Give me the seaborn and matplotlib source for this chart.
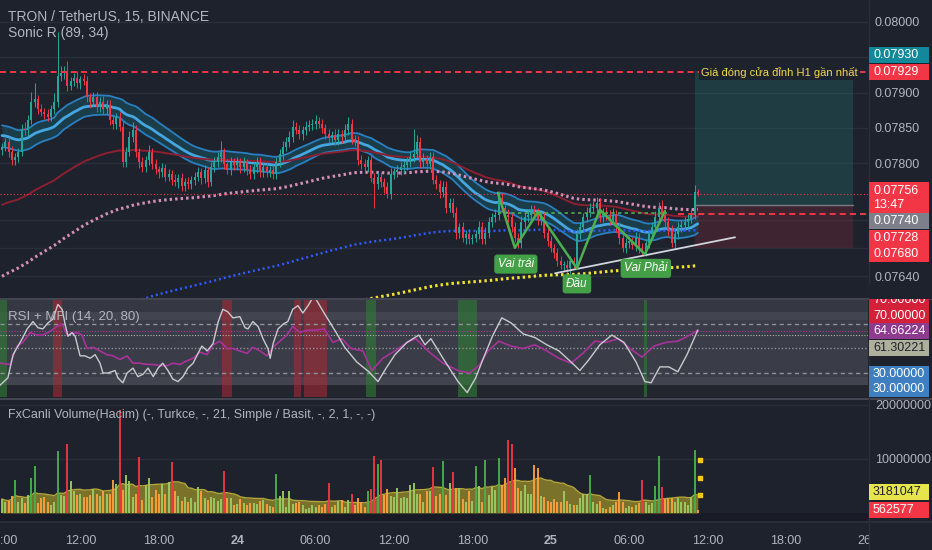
import numpy as np
import pandas as pd
import matplotlib
matplotlib.use("Agg")
import matplotlib.pyplot as plt
from matplotlib.patches import Rectangle
from matplotlib.lines import Line2D
import seaborn as sns

sns.set_style("dark")
plt.rcParams['font.family'] = ['Liberation Sans', 'DejaVu Sans']

# ---------------- data (prices in 1e-5 USDT, volume in millions) ----------------
title_main = "TRON / TetherUS, 15, BINANCE"
title_sonic = "Sonic R (89, 34)"
title_rsi = "RSI + MFI (14, 20, 80)"
title_vol = "FxCanli Volume(Hacim) (-, Turkce, -, 21, Simple / Basit, -, 2, 1, -, -)"

open_first = 7818
closes = [
    7823, 7830, 7816, 7804, 7809, 7816, 7849, 7847, 7861, 7887,
    7891, 7876, 7873, 7870, 7866, 7876, 7887, 7923, 7927, 7930,
    7909, 7916, 7921, 7913, 7919, 7916, 7894, 7887, 7894, 7880,
    7887, 7876, 7883, 7861, 7856, 7866, 7851, 7801, 7816, 7837,
    7847, 7816, 7801, 7794, 7804, 7816, 7799, 7791, 7787, 7793,
    7781, 7784, 7776, 7773, 7779, 7767, 7773, 7770, 7776, 7780,
    7787, 7779, 7790, 7773, 7794, 7801, 7809, 7816, 7799, 7790,
    7801, 7797, 7801, 7794, 7801, 7790, 7784, 7794, 7801, 7787,
    7794, 7787, 7790, 7784, 7801, 7813, 7823, 7830, 7837, 7851,
    7847, 7841, 7847, 7851, 7854, 7856, 7859, 7856, 7850, 7841,
    7836, 7840, 7833, 7841, 7837, 7847, 7856, 7834, 7830, 7804,
    7799, 7794, 7804, 7779, 7770, 7780, 7773, 7766, 7756, 7784,
    7787, 7790, 7794, 7797, 7801, 7809, 7813, 7830, 7801, 7806,
    7799, 7809, 7776, 7770, 7759, 7766, 7737, 7744, 7730, 7701,
    7709, 7694, 7699, 7693, 7694, 7699, 7709, 7693, 7701, 7716,
    7723, 7727, 7751, 7737, 7727, 7723, 7709, 7694, 7687, 7716,
    7723, 7727, 7733, 7730, 7719, 7723, 7701, 7690, 7680, 7673,
    7661, 7656, 7656, 7651, 7661, 7656, 7699, 7709, 7723, 7730,
    7737, 7737, 7744, 7723, 7730, 7727, 7719, 7727, 7709, 7694,
    7680, 7687, 7690, 7684, 7694, 7680, 7676, 7687, 7699, 7709,
    7723, 7737, 7727, 7716, 7704, 7687, 7699, 7709, 7713, 7716,
    7721, 7726, 7759, 7756]
up_wick = [
    6, 5, 7, 8, 6, 5, 7, 9, 7, 14,
    22, 6, 8, 5, 7, 6, 12, 62, 10, 8,
    14, 6, 7, 9, 5, 7, 8, 6, 7, 7,
    6, 8, 7, 6, 9, 5, 7, 8, 7, 9,
    11, 7, 6, 7, 6, 9, 6, 7, 5, 7,
    6, 7, 6, 8, 5, 7, 6, 7, 6, 7,
    8, 6, 7, 5, 7, 8, 7, 16, 6, 7,
    7, 6, 8, 6, 7, 5, 7, 6, 8, 7,
    6, 7, 6, 7, 8, 7, 9, 7, 8, 10,
    7, 7, 6, 8, 7, 7, 9, 6, 7, 6,
    7, 6, 8, 7, 6, 8, 9, 7, 6, 8,
    7, 7, 6, 9, 7, 7, 8, 6, 7, 9,
    6, 7, 7, 6, 7, 8, 36, 10, 7, 8,
    6, 7, 7, 7, 6, 8, 9, 7, 7, 8,
    6, 7, 7, 8, 6, 7, 9, 7, 8, 7,
    7, 8, 9, 7, 7, 8, 6, 7, 7, 9,
    6, 7, 8, 7, 7, 6, 8, 7, 7, 6,
    7, 7, 6, 7, 7, 6, 8, 7, 7, 8,
    7, 9, 8, 7, 7, 8, 7, 9, 7, 7,
    8, 7, 7, 6, 8, 7, 7, 6, 7, 8,
    9, 8, 11, 7, 7, 8, 7, 7, 6, 7,
    7, 7, 10, 4]
dn_wick = [
    7, 6, 8, 7, 6, 7, 6, 7, 8, 6,
    7, 7, 6, 8, 7, 7, 6, 7, 7, 8,
    7, 6, 7, 7, 8, 6, 7, 7, 6, 7,
    8, 7, 6, 7, 7, 8, 6, 7, 7, 6,
    7, 7, 8, 7, 6, 7, 7, 6, 8, 7,
    6, 7, 7, 6, 8, 7, 7, 6, 7, 7,
    6, 8, 7, 7, 6, 7, 7, 8, 7, 6,
    7, 7, 6, 8, 7, 7, 6, 7, 8, 7,
    6, 7, 7, 6, 7, 7, 8, 6, 7, 7,
    6, 7, 8, 7, 6, 7, 7, 6, 8, 7,
    7, 6, 7, 7, 8, 6, 7, 7, 6, 7,
    8, 7, 7, 6, 34, 7, 7, 8, 6, 7,
    7, 6, 7, 8, 7, 6, 7, 7, 8, 6,
    7, 7, 6, 7, 8, 7, 7, 6, 7, 8,
    7, 6, 8, 7, 7, 6, 7, 7, 8, 7,
    6, 7, 7, 6, 7, 8, 7, 6, 7, 7,
    8, 6, 7, 7, 6, 7, 7, 8, 6, 7,
    7, 6, 7, 7, 8, 4, 6, 7, 7, 6,
    7, 7, 8, 6, 7, 7, 6, 7, 7, 8,
    6, 7, 7, 6, 8, 7, 6, 7, 7, 6,
    7, 7, 6, 7, 7, 6, 7, 7, 6, 7,
    7, 6, 5, 3]
volume_m = [
    2.6, 2.1, 2.2, 3.2, 6.1, 2.1, 2.8, 1.9, 3.3, 6.4,
    8.7, 1.8, 2.8, 3.0, 2.0, 1.5, 2.0, 11.5, 3.3, 3.2,
    12.8, 5.9, 4.0, 3.3, 3.5, 3.0, 3.0, 3.3, 4.4, 3.5,
    3.2, 4.0, 3.5, 3.5, 6.1, 5.3, 19.0, 4.3, 7.0, 5.9,
    3.0, 3.6, 10.3, 2.4, 5.2, 6.4, 3.0, 4.3, 3.6, 5.3,
    3.6, 5.7, 9.5, 4.1, 3.2, 2.2, 3.0, 2.0, 2.8, 2.0,
    4.9, 4.0, 2.7, 2.4, 3.0, 2.7, 2.2, 2.6, 7.8, 2.8,
    2.7,
    1.5, 1.6, 2.6, 1.8, 1.4, 1.8, 1.8, 1.6, 2.2, 2.4,
    1.6, 1.3, 1.2, 7.2, 3.2, 4.0, 1.2, 4.0, 1.6, 1.8,
    2.1, 1.4, 0.7, 1.0, 1.4, 1.2, 1.5, 1.2, 1.6, 5.6,
    1.2, 1.5, 2.2, 2.4, 1.2, 2.4, 3.5, 1.5, 2.8, 2.0,
    1.2, 4.1, 4.4, 10.6, 9.0, 9.8, 3.3, 4.4, 3.2, 3.0,
    4.6, 2.8, 3.0, 2.7, 5.1, 5.5, 3.6, 3.6, 2.0, 4.0,
    4.1, 8.6, 3.2, 3.6, 9.7, 3.3, 5.5, 7.5, 4.6, 4.6,
    2.6, 2.1,
    4.0, 2.2, 8.7, 5.0, 2.1, 9.8, 3.3, 4.9, 4.2, 10.1,
    5.1, 6.4, 13.5, 12.7, 8.3, 4.6, 4.1, 5.2, 3.6, 3.6,
    8.9, 8.4, 3.1, 3.0, 2.2, 2.0, 2.6, 2.0, 2.1, 4.0,
    2.2, 1.6, 1.4, 1.4, 2.8, 3.5, 3.6, 7.0, 2.1, 1.6,
    2.2, 0.9, 0.7, 1.2, 1.5, 2.1, 3.8, 2.0, 0.9, 1.3,
    1.2, 1.4, 1.8, 6.1, 2.1, 1.5, 1.8, 5.0, 10.6, 4.9,
    2.6, 2.8, 2.7, 2.1, 2.8, 2.1, 2.0, 1.5, 3.0, 11.6,
    0.562577]

rsi_pos = [
    -0.6, 1.8, 3.4, 4.9, 6.2, 7.7, 9.5, 11.0, 12.5, 14.1,
    15.6, 17.1, 18.4, 19.3, 20.2, 21.4, 22.4, 23.9, 25.4, 27.0,
    28.5, 30.0, 30.9, 32.4, 34.6, 35.5, 37.0, 38.3, 40.1, 41.6,
    43.2, 44.7, 46.3, 47.8, 49.2, 50.8, 52.3, 53.9, 55.4, 56.9,
    58.5, 60.0, 61.2, 62.8, 64.6, 66.2, 67.6, 69.1, 70.7, 72.8,
    74.4, 75.3, 76.8, 78.4, 79.9, 81.4, 82.1, 83.0, 84.5, 86.1,
    87.5, 89.0, 90.6, 92.1, 93.7, 95.5, 98.6, 102.3, 104.9, 108.6,
    112.3, 115.1, 117.6, 120.3, 124.0, 127.6, 129.5, 131.3, 135.0, 139.6,
    142.4, 145.0, 147.8, 150.3, 153.0, 155.8, 159.5, 163.1, 166.8, 170.5,
    174.2, 176.9, 179.7, 183.0, 186.7, 190.4, 194.1, 196.8, 198.7, 201.4,
    204.1, 206.9, 209.7, 213.0]
rsi_val = [
    20, 26, 45, 52, 58, 66, 72, 67, 66, 71,
    74, 86, 82, 70, 60, 63, 60, 44, 44, 42,
    45, 38, 30, 30, 32, 26, 22, 30, 34, 27,
    29, 34, 27, 34, 38, 32, 25, 23, 27, 34,
    38, 46, 52, 48, 54, 72, 82, 80, 75, 76,
    67, 66, 72, 68, 58, 50, 42, 54, 66, 70,
    72, 82, 85, 79, 85, 93, 79, 63, 51, 39,
    31, 23, 34, 45, 55, 61, 53, 58, 42, 23,
    14, 26, 45, 61, 75, 71, 62, 59, 53, 48,
    39, 32, 41, 53, 61, 55, 39, 23, 22, 35,
    35, 31, 45, 65]
mfi_pos = [
    -0.6, 2.5, 4.6, 6.4, 8.6, 10.7, 12.5, 14.7, 16.8, 18.4,
    19.9, 21.4, 23.0, 24.5, 26.0, 27.9, 30.0, 32.1, 34.0, 36.1,
    38.3, 40.1, 42.2, 44.4, 46.3, 48.4, 50.5, 52.3, 54.5, 56.6,
    58.5, 60.6, 62.8, 64.6, 66.7, 68.9, 70.7, 72.8, 75.0, 76.8,
    79.0, 81.1, 83.0, 85.1, 87.2, 89.0, 91.2, 93.3, 95.8, 98.6,
    101.3, 104.1, 106.8, 110.5, 113.2, 116.6, 120.3, 124.0, 126.7, 130.4,
    135.0, 139.6, 143.2, 146.0, 148.8, 152.1, 155.8, 159.5, 163.1, 166.8,
    170.5, 174.2, 177.8, 181.5, 184.9, 188.6, 192.2, 195.9, 199.6, 203.2,
    206.9, 210.6, 213.0]
mfi_val = [
    38, 37, 52, 55, 63, 61, 61, 64, 68, 70,
    61, 62, 63, 61, 50, 51, 48, 45, 44, 41,
    44, 38, 38, 37, 37, 36, 36, 38, 37, 40,
    42, 47, 45, 53, 56, 50, 50, 48, 46, 51,
    48, 44, 51, 56, 61, 68, 63, 65, 65, 66,
    55, 58, 50, 48, 32, 42, 48, 55, 58, 48,
    38, 32, 30, 36, 48, 56, 52, 50, 53, 48,
    42, 38, 46, 56, 55, 58, 50, 43, 52, 55,
    56, 61, 65]

# indicator seeds (value of each average at the left edge)
sonic_period = 34
sonic_seed_hi, sonic_seed_c, sonic_seed_lo = 7855, 7840, 7823
ema89_seed = 7739
pink_period, pink_seed = 141, 7637
blue_period, blue_seed = 275, 7510
yellow_period, yellow_seed = 380, 7428
vol_ma_len = 21

# RSI over/under zones (candle index ranges)
red_zones = [(16, 18), (68, 70), (90, 91), (93, 99)]
green_zones = [(-1, 1), (112, 114), (140, 145), (197, 197)]

# time axis (candle index of each label)
time_ticks = [0, 24, 48, 72, 96, 120, 144, 168, 192, 216, 240, 264]
time_labels = ["06:00", "12:00", "18:00", "24", "06:00", "12:00", "18:00", "25",
               "06:00", "12:00", "18:00", "26"]

# drawings: head & shoulders, trend line, long position
hs_x = [151.8, 157.0, 164.1, 176.0, 183.0, 196.8, 202.9]
hs_y = [7758, 7680, 7731, 7651, 7734, 7671, 7732]
hs_labels = ["Vai trái", "Đầu", "Vai Phải"]
hs_label_x = [157.3, 176.0, 197.1]
hs_label_y = [7657, 7629, 7651]
neck_x = [151.8, 203.5]
neck_y = 7729
trend_x = [169.3, 224.4]
trend_y = [7644, 7695]
h1_close = 7929
h1_text = "Giá đóng cửa đỉnh H1 gần nhất"
lp_start, lp_end = 212.1, 260.5
lp_entry, lp_target, lp_stop = 7740, 7930, 7680
last_price = 7756
level_stop = 7728
vol_marks = [9.8, 6.5, 3.3]

# ---------------- calculations ----------------
S = 1e-5
c = np.array(closes, float)
o = np.r_[open_first, c[:-1]]
h = np.maximum(o, c) + np.array(up_wick)
l = np.minimum(o, c) - np.array(dn_wick)
vol = np.array(volume_m) * 1e6
idx = np.arange(len(c))


def ema(vals, period, seed):
    a = 2.0 / (period + 1)
    e = seed
    out = []
    for v in vals:
        e = e + a * (v - e)
        out.append(e)
    return np.array(out)


sonic_hi = ema(h, sonic_period, sonic_seed_hi)
sonic_lo = ema(l, sonic_period, sonic_seed_lo)
sonic_c = ema(c, sonic_period, sonic_seed_c)
ema89 = ema(c, 89, ema89_seed)
ema_pink = ema(c, pink_period, pink_seed)
ema_blue = ema(c, blue_period, blue_seed)
ema_yellow = ema(c, yellow_period, yellow_seed)
vol_ma = pd.Series(vol).rolling(vol_ma_len, min_periods=1).mean().values

# ---------------- figure ----------------
W, H = 932, 550
BG = '#1e222d'
TXT = '#b2b5be'
XMIN, XMAX = -0.61, 265.1
fig = plt.figure(figsize=(W / 100, H / 100), dpi=100, facecolor=BG)


def px_axes(x0, y0, x1, y1):
    return fig.add_axes([x0 / W, 1 - y1 / H, (x1 - x0) / W, (y1 - y0) / H])


ax_p = px_axes(0, 0, 868, 298)
ax_r = px_axes(0, 300, 868, 397)
ax_v = px_axes(0, 400, 868, 521)
for ax in (ax_p, ax_r, ax_v):
    ax.set_facecolor(BG)
    for sp in ax.spines.values():
        sp.set_visible(False)
    ax.set_xlim(XMIN, XMAX)
    ax.set_xticks([])
    ax.grid(False)

# ---- main price panel ----
ax_p.set_ylim(7609 * S, 8031 * S)
for v in [7640, 7680, 7720, 7800, 7850, 7900, 7950, 8000]:
    ax_p.axhline(v * S, color='#2a2e39', lw=1, zorder=0)

ax_p.fill_between(idx, sonic_lo * S, sonic_hi * S, color='#194f5d', alpha=0.6, lw=0, zorder=2)
sns.lineplot(x=idx, y=sonic_hi * S, ax=ax_p, color='#2a7fc0', lw=1.3, zorder=3)
sns.lineplot(x=idx, y=sonic_lo * S, ax=ax_p, color='#2a7fc0', lw=1.3, zorder=3)
sns.lineplot(x=idx, y=sonic_c * S, ax=ax_p, color='#46a6e0', lw=2.0, zorder=3)
sns.lineplot(x=idx, y=ema89 * S, ax=ax_p, color='#8c1f30', lw=1.4, zorder=3)
sns.lineplot(x=idx, y=ema_pink * S, ax=ax_p, color='#d48fb6', lw=2.2, linestyle=(0, (0.8, 1.0)), zorder=3)
sns.lineplot(x=idx, y=ema_blue * S, ax=ax_p, color='#2f5bff', lw=1.8, linestyle=(0, (0.8, 1.2)), zorder=3)
sns.lineplot(x=idx, y=ema_yellow * S, ax=ax_p, color='#f2e230', lw=2.2, linestyle=(0, (0.8, 1.0)), zorder=3)

# long position tool
ax_p.add_patch(Rectangle((lp_start, lp_entry * S), lp_end - lp_start, (lp_target - lp_entry) * S,
                         fc='#26a69a', alpha=0.2, ec='none', zorder=1))
ax_p.add_patch(Rectangle((lp_start, lp_stop * S), lp_end - lp_start, (lp_entry - lp_stop) * S,
                         fc='#f23645', alpha=0.15, ec='none', zorder=1))
ax_p.plot([lp_start, lp_end], [lp_entry * S] * 2, color='#787b86', lw=1, zorder=2)

# candles
up = c >= o
ccol = np.where(up, '#26a69a', '#f23645')
ax_p.vlines(idx, l * S, h * S, colors=ccol, lw=0.7, zorder=4)
ax_p.bar(idx, np.maximum(np.abs(c - o), 0.8) * S, bottom=np.minimum(o, c) * S,
         width=0.62, color=ccol, lw=0, zorder=5)

# horizontal levels
ax_p.axhline(last_price * S, color='#f23645', lw=0.8, ls=(0, (1, 2)), zorder=3)
ax_p.axhline(h1_close * S, color='#f23645', lw=1.4, dashes=(3.1, 2.1), zorder=6)
ax_p.plot([206.9, XMAX], [level_stop * S] * 2, color='#f23645', lw=1.4, dashes=(3.1, 2.1), zorder=6)
ax_p.plot(neck_x, [neck_y * S] * 2, color='#4caf50', lw=1.2, ls=(0, (2, 2)), zorder=6)
ax_p.text(262.0, h1_close * S, h1_text, ha='right', va='center', color='#f2d94e', fontsize=8,
          bbox=dict(fc=BG, ec='none', pad=1.5), zorder=7)

# pattern drawing
ax_p.plot(trend_x, np.array(trend_y) * S, color='#d1d4dc', lw=1.3, zorder=6)
ax_p.plot(hs_x, np.array(hs_y) * S, color='#4caf50', lw=1.8, zorder=6)
for t, x, y in zip(hs_labels, hs_label_x, hs_label_y):
    ax_p.text(x, y * S, t, color='white', style='italic', fontsize=8.5, ha='center', va='center',
              bbox=dict(boxstyle='round,pad=0.3,rounding_size=0.25', fc='#43a047', ec='none'), zorder=8)

ax_p.yaxis.tick_right()
ax_p.set_yticks([v * S for v in [7640, 7800, 7850, 7900, 8000]])
ax_p.set_yticklabels(["0.07640", "0.07800", "0.07850", "0.07900", "0.08000"])
ax_p.tick_params(axis='y', length=0, pad=5, labelsize=9, labelcolor=TXT)
ax_p.set_ylabel("")

# ---- RSI + MFI panel ----
ax_r.set_ylim(10.4, 89.6)
ax_r.set_facecolor('#23262f')
ax_r.axhspan(80, 95, color='#353842', lw=0, zorder=0)
ax_r.axhspan(20, 80, color='#42454f', lw=0, zorder=0)
ax_r.axhspan(27, 73, color='#3a3d47', lw=0, zorder=0)
for a, b in red_zones:
    ax_r.axvspan(a - 0.5, b + 0.5, color='#b22833', alpha=0.55, lw=0, zorder=1)
for a, b in green_zones:
    ax_r.axvspan(a - 0.5, b + 0.5, color='#2e7d32', alpha=0.6, lw=0, zorder=1)
for v in (70, 30):
    ax_r.axhline(v, color='#8f929b', lw=1, dashes=(3, 2.5), zorder=2)
ax_r.axhline(50, color='#8f929b', lw=1, ls=(0, (1, 1.5)), zorder=2)
ax_r.axhline(61.30221, color='#aeb1b8', lw=0.8, ls=(0, (1, 1.5)), zorder=2)
ax_r.axhline(64.66224, color='#b0389e', lw=0.8, ls=(0, (1, 1.5)), zorder=2)
sns.lineplot(x=mfi_pos, y=mfi_val, ax=ax_r, color='#a8329a', lw=1.2, zorder=3)
sns.lineplot(x=rsi_pos, y=rsi_val, ax=ax_r, color='#c8cad0', lw=1.0, zorder=4)
ax_r.set_yticks([])
ax_r.set_ylabel("")

# ---- volume panel ----
ax_v.set_ylim(-1.48e6, 20.9e6)
ax_v.axhspan(-1.48e6, 0, color='#181b25', lw=0, zorder=0)
for v in (10e6, 20e6):
    ax_v.axhline(v, color='#2a2e39', lw=1, zorder=0)
bright = vol > 1.6 * vol_ma
vcol = np.where(bright, np.where(up, '#4caf50', '#f23645'), np.where(up, '#9ccc65', '#ff9f40'))
ax_v.fill_between(idx, 0, vol_ma, color='#9a8d2a', alpha=0.75, lw=0, zorder=2)
sns.lineplot(x=idx, y=vol_ma, ax=ax_v, color='#b3a53a', lw=1.0, zorder=2)
ax_v.bar(idx, vol, width=0.6, color=vcol, alpha=0.92, lw=0, zorder=3)
ax_v.scatter([213.7] * len(vol_marks), np.array(vol_marks) * 1e6, marker='s', s=5,
             color='#f5c518', zorder=4)
ax_v.yaxis.tick_right()
ax_v.set_yticks([10e6, 20e6])
ax_v.set_yticklabels(["10000000", "20000000"])
ax_v.tick_params(axis='y', length=0, pad=5, labelsize=9, labelcolor=TXT)
ax_v.set_xticks(time_ticks)
ax_v.set_xticklabels(time_labels)
ax_v.tick_params(axis='x', length=0, pad=10, labelsize=9, labelcolor=TXT)
for t in ax_v.get_xticklabels():
    if t.get_text() in ("24", "25"):
        t.set_fontweight('bold')
ax_v.set_ylabel("")

# ---- panel titles ----
fig.text(8 / W, 1 - 17 / H, title_main, color=TXT, fontsize=10, va='center')
fig.text(8 / W, 1 - 33 / H, title_sonic, color=TXT, fontsize=10, va='center')
fig.text(8 / W, 1 - 317 / H, title_rsi, color=TXT, fontsize=9.5, va='center')
fig.text(8 / W, 1 - 415 / H, title_vol, color=TXT, fontsize=9, va='center')

# ---- separators ----
for yy, col in ((298.5, '#434651'), (398.5, '#434651'), (522, '#2a2e39')):
    fig.add_artist(Line2D([0, 1], [1 - yy / H] * 2, color=col, lw=1.5, transform=fig.transFigure, zorder=2))
fig.add_artist(Line2D([868.5 / W] * 2, [0, 1], color='#2a2e39', lw=1, transform=fig.transFigure, zorder=2))
fig.add_artist(Rectangle((869 / W, 0), 63 / W, 27 / H, fc=BG, ec='none',
                         transform=fig.transFigure, zorder=1))


# ---- axis price tags ----
def tag(y, text, fc, tc='white', hgt=16, z=5):
    fig.add_artist(Rectangle((869 / W, 1 - (y + hgt / 2) / H), 60 / W, hgt / H, fc=fc, ec='none',
                             transform=fig.transFigure, zorder=z))
    fig.text(873 / W, 1 - y / H, text, color=tc, fontsize=9, va='center', ha='left',
             linespacing=1.3, zorder=z + 0.5)


tag(55, "0.07930", '#12899a')
tag(72, "0.07929", '#f23645')
tag(198, "0.07756\n13:47", '#f23645', hgt=32)
tag(221, "0.07740", '#7d808a')
tag(238, "0.07728", '#f23645')
tag(254, "0.07680", '#f23645')
tag(300, "70.00000", '#d3213a')
fig.add_artist(Rectangle((869 / W, 1 - 298.5 / H), 63 / W, 14 / H, fc=BG, ec='none',
                         transform=fig.transFigure, zorder=7))
tag(316, "70.00000", '#d3213a')
tag(331, "64.66224", '#8e3a8e')
tag(348, "61.30221", '#aeb09c', tc='#1e222d')
tag(374, "30.00000", '#3d7fc1')
tag(389, "30.00000", '#3d7fc1')
tag(492, "3181047", '#e6e64c', tc='#1e222d')
tag(510, "562577", '#f23645')

fig.savefig("out.png", dpi=100, facecolor=BG)
